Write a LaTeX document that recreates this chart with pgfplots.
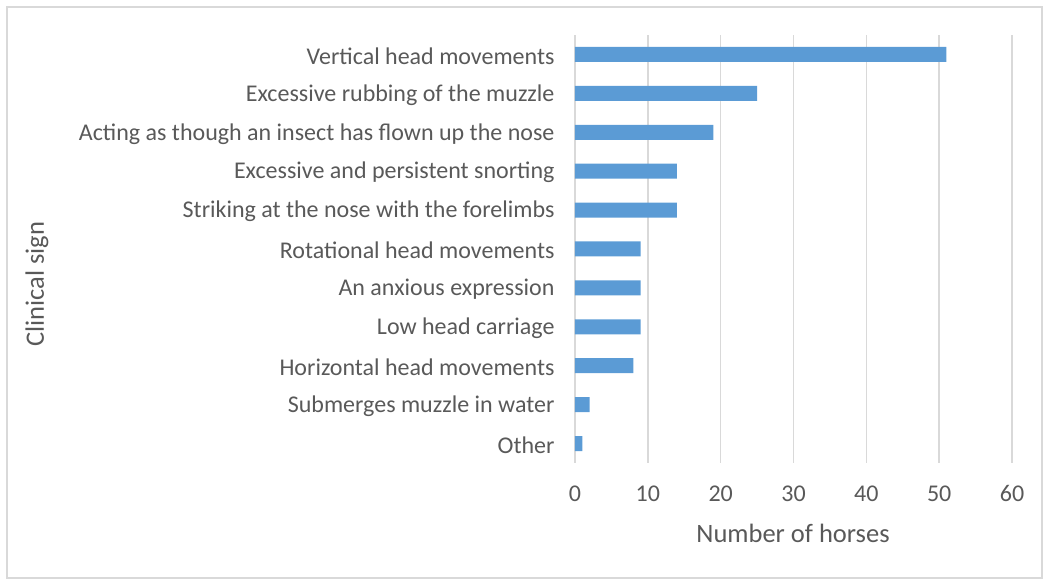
\documentclass[border=0pt]{standalone}
\usepackage{fontspec}
\setmainfont{Carlito}
\usepackage{pgfplots}
\pgfplotsset{compat=1.18}
\definecolor{barblue}{HTML}{5B9BD5}
\definecolor{txtgray}{HTML}{595959}
\definecolor{gridgray}{HTML}{D9D9D9}
\pgfplotstableread{
y v
0 1
1 2
2 8
3 9
4 9
5 9
6 14
7 14
8 19
9 25
10 51
}\datatable
\begin{document}
\begin{tikzpicture}[x=1pt,y=1pt]
\useasboundingbox (0,0) rectangle (1045,580);
\draw[gridgray, line width=1.5pt] (7,2) rectangle (1042,573);
\begin{axis}[
  at={(575pt,117pt)}, anchor=south west,
  scale only axis, width=437pt, height=428pt,
  xbar, bar width=15pt,
  xmin=0, xmax=60, ymin=-0.5, ymax=10.5,
  xtick={0,10,...,60},
  ytick={0,...,10},
  yticklabels={Other, Submerges muzzle in water, Horizontal head movements, Low head carriage, An anxious expression, Rotational head movements, Striking at the nose with the forelimbs, Excessive and persistent snorting, Acting as though an insect has flown up the nose, Excessive rubbing of the muzzle, Vertical head movements},
  axis line style={draw=none},
  xmajorgrids, major grid style={gridgray, line width=1.5pt},
  major tick length=0pt,
  tick style={draw=none},
  /pgf/number format/assume math mode=true,
  tick label style={font=\fontsize{24}{28}\selectfont, text=txtgray},
  yticklabel style={xshift=-17pt, yshift=-1.5pt},
  xticklabel style={yshift=-19pt},
]
\addplot[fill=barblue, draw=none] table[x=v, y=y] {\datatable};
\end{axis}
\node[rotate=90, text=txtgray, font=\fontsize{26.5}{30}\selectfont] at (37,296) {Clinical sign};
\node[text=txtgray, font=\fontsize{26.5}{30}\selectfont] at (793,47) {Number of horses};
\end{tikzpicture}
\end{document}
